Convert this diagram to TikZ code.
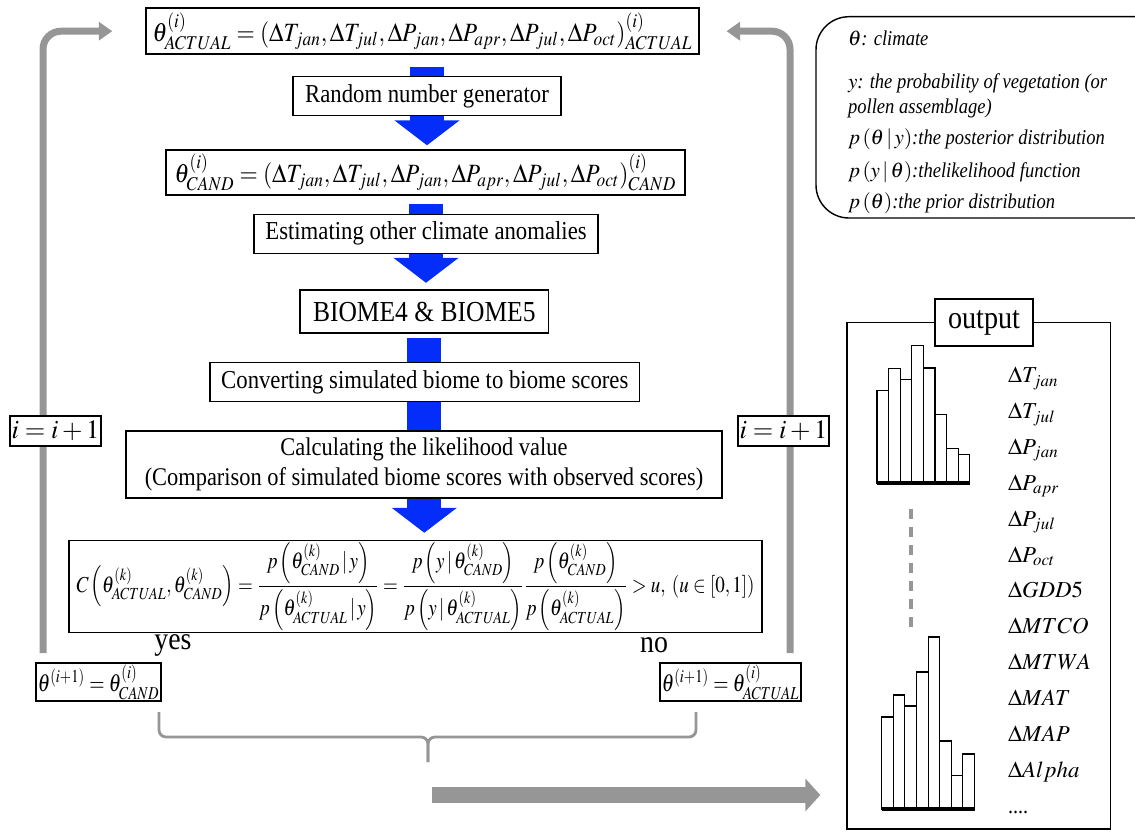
\documentclass[tikz,border=0pt]{standalone}
\usepackage{mathptmx}
\usepackage{graphicx}
\usepackage{fontspec}
\setmainfont{Liberation Serif}[FakeStretch=0.88]
\usetikzlibrary{arrows.meta,backgrounds}

\definecolor{flowblue}{RGB}{5,45,250}
\definecolor{loopgray}{RGB}{150,150,150}

\tikzset{
  box/.style={draw=black,fill=white,line width=0.8pt,inner sep=1pt,align=center,font=\fontsize{14.7}{17}\selectfont},
  flowarrow/.style={draw=flowblue,line width=0.68cm,-{Triangle[width=1.28cm,length=0.5cm]}},
  backarrow/.style={draw=loopgray,line width=0.14cm,rounded corners=0.36cm,-{Triangle[width=0.36cm,length=0.27cm]}},
  histbar/.style={draw=black,fill=white,line width=0.6pt},
  legendtext/.style={anchor=west,inner sep=0pt,font=\fontsize{12}{14}\selectfont\itshape},
  outlabel/.style={anchor=base west,inner sep=0pt,font=\fontsize{13}{15}\selectfont},
}

\begin{document}
\begin{tikzpicture}[x=0.02cm,y=-0.02cm]
\useasboundingbox (0,0) rectangle (1135,831);

% flow chart
\node[box,minimum width=11.06cm,minimum height=0.92cm,font=\fontsize{15}{18}\selectfont] (actual) at (422.4,31.2)
  {\scalebox{0.89}[1]{$\theta^{(i)}_{ACTUAL}=(\Delta T_{jan},\Delta T_{jul},\Delta P_{jan},\Delta P_{apr},\Delta P_{jul},\Delta P_{oct})^{(i)}_{ACTUAL}$}};
\node[box,minimum width=5.36cm,minimum height=0.78cm] (rng) at (427,96.2) {Random number generator};
\node[box,minimum width=10.38cm,minimum height=0.9cm,font=\fontsize{15}{18}\selectfont] (cand) at (425.4,172.5)
  {\scalebox{0.89}[1]{$\theta^{(i)}_{CAND}=(\Delta T_{jan},\Delta T_{jul},\Delta P_{jan},\Delta P_{apr},\Delta P_{jul},\Delta P_{oct})^{(i)}_{CAND}$}};
\node[box,minimum width=6.88cm,minimum height=0.78cm] (est) at (426,233.8) {Estimating other climate anomalies};
\node[box,minimum width=4.97cm,minimum height=0.86cm,font=\fontsize{16.5}{19}\selectfont] (biome) at (424.3,311.5) {BIOME4 \& BIOME5};
\node[box,minimum width=8.6cm,minimum height=0.78cm] (conv) at (424.8,382.2) {Converting simulated biome to biome scores};
\node[box,minimum width=11.92cm,minimum height=1.34cm,font=\fontsize{14.5}{17}\selectfont] (calc) at (424,464.5)
  {Calculating the likelihood value\\(Comparison of simulated biome scores with observed scores)};
\node[box,minimum width=13.86cm,minimum height=1.58cm,font=\fontsize{13}{15}\selectfont] (crit) at (415.5,586.5)
  {\scalebox{0.835}[1]{$\displaystyle C\left(\theta^{(k)}_{ACTUAL},\theta^{(k)}_{CAND}\right)=\frac{p\left(\theta^{(k)}_{CAND}\,|\,y\right)}{p\left(\theta^{(k)}_{ACTUAL}\,|\,y\right)}=\frac{p\left(y\,|\,\theta^{(k)}_{CAND}\right)}{p\left(y\,|\,\theta^{(k)}_{ACTUAL}\right)}\frac{p\left(\theta^{(k)}_{CAND}\right)}{p\left(\theta^{(k)}_{ACTUAL}\right)}>u,\ (u\in[0,1])$}};

\node[font=\fontsize{18}{20}\selectfont] (yes) at (173,645) {yes};
\node[font=\fontsize{18}{20}\selectfont] (no) at (654,645) {no};
\node[box,minimum width=2.5cm,minimum height=0.76cm,font=\fontsize{14}{16}\selectfont] (candnew) at (98.5,682) {\scalebox{0.8}[1]{$\theta^{(i+1)}=\theta^{(i)}_{CAND}$}};
\node[box,minimum width=2.7cm,minimum height=0.76cm,font=\fontsize{14}{16}\selectfont] (actnew) at (730.5,682) {\scalebox{0.8}[1]{$\theta^{(i+1)}=\theta^{(i)}_{ACTUAL}$}};
\node[box,minimum width=1.82cm,minimum height=0.6cm,font=\fontsize{15}{18}\selectfont] (incl) at (55.5,431) {$i=i+1$};
\node[box,minimum width=1.82cm,minimum height=0.6cm,font=\fontsize{15}{18}\selectfont] (incr) at (783.5,431) {$i=i+1$};

% arrows behind the boxes
\coordinate (lfoot) at (43,653);
\coordinate (rfoot) at (790,653);
\coordinate (bigstart) at (432,795);
\begin{scope}[on background layer]
\draw[flowarrow,shorten <=0.24cm,shorten >=0.08cm] (rng.north |- actual.south) -- (rng.south |- cand.north);
\draw[flowarrow,shorten <=0.16cm,shorten >=0.13cm] (est.north |- cand.south) -- (est.south |- biome.north);
\draw[flowarrow,shorten <=0.08cm,shorten >=0.14cm] (biome.south) -- (biome.south |- crit.north);
\draw[backarrow,shorten >=0.66cm] (lfoot) |- (actual.west);
\draw[backarrow,shorten >=0.54cm] (rfoot) |- (actual.east);
\end{scope}

% brace
\draw[loopgray,line width=1.6pt,rounded corners=0.14cm] (159,712) -- (159,737) -- (428,737) -- (428,762);
\draw[loopgray,line width=1.6pt,rounded corners=0.14cm] (696,712) -- (696,737) -- (428,737) -- (428,762);

% output
\node[draw=black,line width=0.8pt,minimum width=5.274cm,minimum height=10.126cm] (outbox) at (978.85,575.85) {};
\node[box,minimum width=1.96cm,minimum height=0.94cm,font=\fontsize{18.2}{21}\selectfont] (outtitle) at (984,322.5) {output};
\draw[draw=loopgray,line width=0.32cm,shorten >=0.52cm,-{Triangle[width=0.64cm,length=0.3cm]}] (bigstart) -- (outbox.west |- bigstart);

\foreach \t [count=\i from 0] in {390.7,368.7,379.3,345.3,368,414.3,448.7,454.3}
  \draw[histbar] ({877+11.6*\i},483) rectangle ({888.6+11.6*\i},\t);
\draw[line width=1.8pt] (877,483) -- (970,483);
\foreach \t [count=\i from 0] in {717,695,706,672,637,741,775.7,754}
  \draw[histbar] ({881.7+11.6*\i},809) rectangle ({893.3+11.6*\i},\t);
\draw[line width=2pt] (881.7,809) -- (974.7,809);
\draw[loopgray,line width=0.08cm,dash pattern=on 0.2cm off 0.16cm] (911,509) -- (911,634);

\foreach \lab [count=\k from 0] in {{\Delta T_{jan}},{\Delta T_{jul}},{\Delta P_{jan}},{\Delta P_{apr}},{\Delta P_{jul}},{\Delta P_{oct}},{\Delta GDD5},{\Delta MTCO},{\Delta MTWA},{\Delta MAT},{\Delta MAP},{\Delta Alpha}}
  \node[outlabel] (var\k) at (1007.7,{382.7+35.86*\k}) {$\lab$};
\node[outlabel] (varmore) at (1007.7,813) {....};

% legend
\begin{scope}
\clip (0,0) rectangle (1135,831);
\draw[line width=0.8pt,rounded corners=0.66cm] (816,16.7) rectangle (1170,218);
\end{scope}
\node[legendtext] (leg1) at (847.7,38) {$\theta$: climate};
\node[legendtext] (leg2) at (847.7,83) {$y$: the probability of vegetation (or};
\node[legendtext] (leg3) at (847.7,108) {pollen assemblage)};
\node[legendtext] (leg4) at (847.7,139) {$p\left(\theta\,|\,y\right)$:the posterior distribution};
\node[legendtext] (leg5) at (847.7,172) {$p\left(y\,|\,\theta\right)$:thelikelihood function};
\node[legendtext] (leg6) at (847.7,203) {$p\left(\theta\right)$:the prior distribution};
\end{tikzpicture}
\end{document}
